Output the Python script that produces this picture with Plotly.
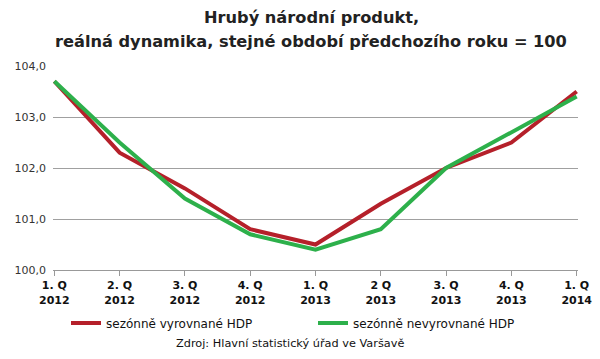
import plotly.graph_objects as go

categories = ["1. Q<br>2012", "2. Q<br>2012", "3. Q<br>2012", "4. Q<br>2012",
              "1. Q<br>2013", "2 Q<br>2013", "3. Q<br>2013", "4. Q<br>2013", "1. Q<br>2014"]
seas_adj = [103.7, 102.3, 101.6, 100.8, 100.5, 101.3, 102.0, 102.5, 103.5]
seas_unadj = [103.7, 102.5, 101.4, 100.7, 100.4, 100.8, 102.0, 102.7, 103.4]
y_ticks = [100, 101, 102, 103, 104]
title_lines = ["Hrubý národní produkt,", "reálná dynamika, stejné období předchozího roku = 100"]
source_text = "Zdroj: Hlavní statistický úřad ve Varšavě"

xs = list(range(len(categories)))
FONT = "DejaVu Sans"
L, R, T, B = 53, 22, 66, 89
PW, PH = 600 - L - R, 359 - T - B

def px(x):
    return (x - L) / PW

def py(y):
    return (359 - B - y) / PH

fig = go.Figure()
fig.add_trace(go.Scatter(x=xs, y=seas_adj, mode="lines", name="sezónně vyrovnané HDP",
                         line=dict(color="#B5202A", width=4)))
fig.add_trace(go.Scatter(x=xs, y=seas_unadj, mode="lines", name="sezónně nevyrovnané HDP",
                         line=dict(color="#2DB04B", width=4)))

annotations = []
for txt, yc in zip(title_lines, [18, 42]):
    annotations.append(dict(text=txt, xref="paper", yref="paper", x=px(311), y=py(yc),
                            xanchor="center", yanchor="middle", showarrow=False,
                            font=dict(family=FONT, size=16.2, color="#222222", weight="bold")))
annotations.append(dict(text=source_text, xref="paper", yref="paper", x=px(290), y=py(343),
                        xanchor="center", yanchor="middle", showarrow=False,
                        font=dict(family=FONT, size=11.3, color="#111111")))

fig.update_layout(
    width=600, height=359,
    margin=dict(l=L, r=R, t=T, b=B, autoexpand=False),
    paper_bgcolor="white", plot_bgcolor="white",
    separators=", ",
    showlegend=True,
    legend=dict(orientation="h", x=px(66), xanchor="left", y=py(323), yanchor="middle",
                font=dict(family=FONT, size=12, color="#111111"),
                entrywidth=202, entrywidthmode="pixels", itemwidth=30,
                bgcolor="rgba(0,0,0,0)", tracegroupgap=0),
    annotations=annotations,
)
fig.update_xaxes(range=[-0.02, 8.02], tickvals=xs, ticktext=categories, automargin=False,
                 showgrid=False, zeroline=False, showline=True, linecolor="#999999", linewidth=1,
                 ticks="outside", ticklen=5, tickcolor="#999999",
                 tickfont=dict(family=FONT, size=11, color="#111111", weight="bold"))
fig.update_yaxes(range=[100, 104], tickvals=y_ticks, tickformat=".1f", automargin=False,
                 showgrid=True, gridcolor="#A0A0A0", gridwidth=1, zeroline=False, showline=False,
                 ticks="", ticklabelstandoff=6,
                 tickfont=dict(family=FONT, size=11, color="#333333"))

fig.write_html("out.html", config={"displayModeBar": False},
               post_script="document.body.style.margin='0px';")
